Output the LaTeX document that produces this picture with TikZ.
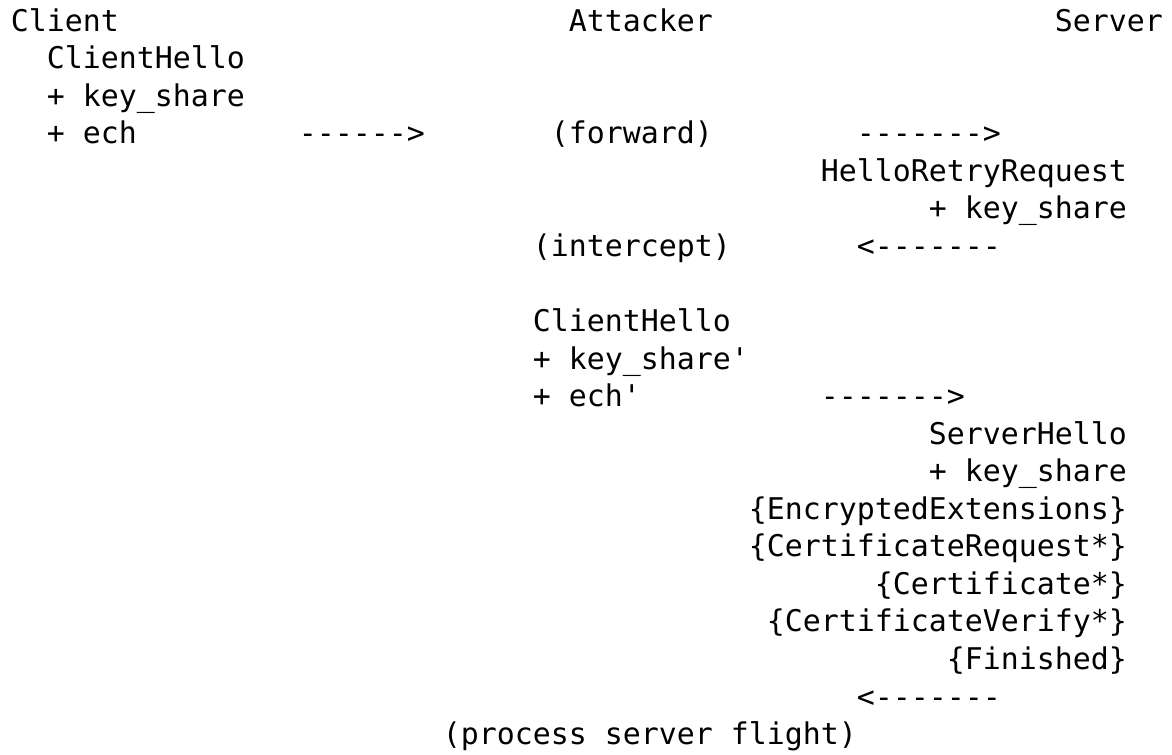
\documentclass[tikz,border=0pt]{standalone}
\usepackage{fontspec}
\setmonofont{DejaVu Sans Mono}
\begin{document}
\begin{tikzpicture}[x=0.75pt,y=-0.75pt]
    \tikzstyle{txt}=[anchor=base west, inner sep=0mm, outer sep=0mm, font=\ttfamily\fontsize{22.42}{28}\selectfont]
    \def\xo{10.9}
    \def\cw{18}
    \def\yo{31}
    \def\lh{37.56}

    \useasboundingbox (0,0) rectangle (1172,754);

    % header
    \node[txt] (client)   at ({\xo+0*\cw},{\yo+0*\lh})  {Client};
    \node[txt] (attacker) at ({\xo+31*\cw},{\yo+0*\lh}) {Attacker};
    \node[txt] (server)   at ({\xo+58*\cw},{\yo+0*\lh}) {Server};

    % first ClientHello
    \node[txt] (chello) at ({\xo+2*\cw},{\yo+1*\lh}) {ClientHello};
    \node[txt] (chks)   at ({\xo+2*\cw},{\yo+2*\lh}) {+ key\_share};
    \node[txt] (chech)  at ({\xo+2*\cw},{\yo+3*\lh}) {+ ech};
    \node[txt] (arrA)   at ({\xo+16*\cw},{\yo+3*\lh}) {------>};
    \node[txt] (fwd)    at ({\xo+30*\cw},{\yo+3*\lh}) {(forward)};
    \node[txt] (arrB)   at ({\xo+47*\cw},{\yo+3*\lh}) {------->};

    % HelloRetryRequest
    \node[txt] (hrr)       at ({\xo+45*\cw},{\yo+4*\lh}) {HelloRetryRequest};
    \node[txt] (hrrks)     at ({\xo+51*\cw},{\yo+5*\lh}) {+ key\_share};
    \node[txt] (intercept) at ({\xo+29*\cw},{\yo+6*\lh}) {(intercept)};
    \node[txt] (arrC)      at ({\xo+47*\cw},{\yo+6*\lh}) {<-------};

    % second ClientHello
    \node[txt] (chello2) at ({\xo+29*\cw},{\yo+8*\lh})  {ClientHello};
    \node[txt] (ks2)     at ({\xo+29*\cw},{\yo+9*\lh})  {+ key\_share\textquotesingle};
    \node[txt] (ech2)    at ({\xo+29*\cw},{\yo+10*\lh}) {+ ech\textquotesingle};
    \node[txt] (arrD)    at ({\xo+45*\cw},{\yo+10*\lh}) {------->};

    % server flight
    \node[txt] (shello) at ({\xo+51*\cw},{\yo+11*\lh}) {ServerHello};
    \node[txt] (shks)   at ({\xo+51*\cw},{\yo+12*\lh}) {+ key\_share};
    \node[txt] (ee)     at ({\xo+41*\cw},{\yo+13*\lh}) {\{EncryptedExtensions\}};
    \node[txt] (creq)   at ({\xo+41*\cw},{\yo+14*\lh}) {\{CertificateRequest*\}};
    \node[txt] (cert)   at ({\xo+48*\cw},{\yo+15*\lh}) {\{Certificate*\}};
    \node[txt] (cv)     at ({\xo+42*\cw},{\yo+16*\lh}) {\{CertificateVerify*\}};
    \node[txt] (fin)    at ({\xo+52*\cw},{\yo+17*\lh}) {\{Finished\}};
    \node[txt] (arrE)   at ({\xo+47*\cw},{\yo+18*\lh}) {<-------};
    \node[txt] (process) at ({\xo+24*\cw},{\yo+19*\lh}) {(process server flight)};

\end{tikzpicture}
\end{document}
